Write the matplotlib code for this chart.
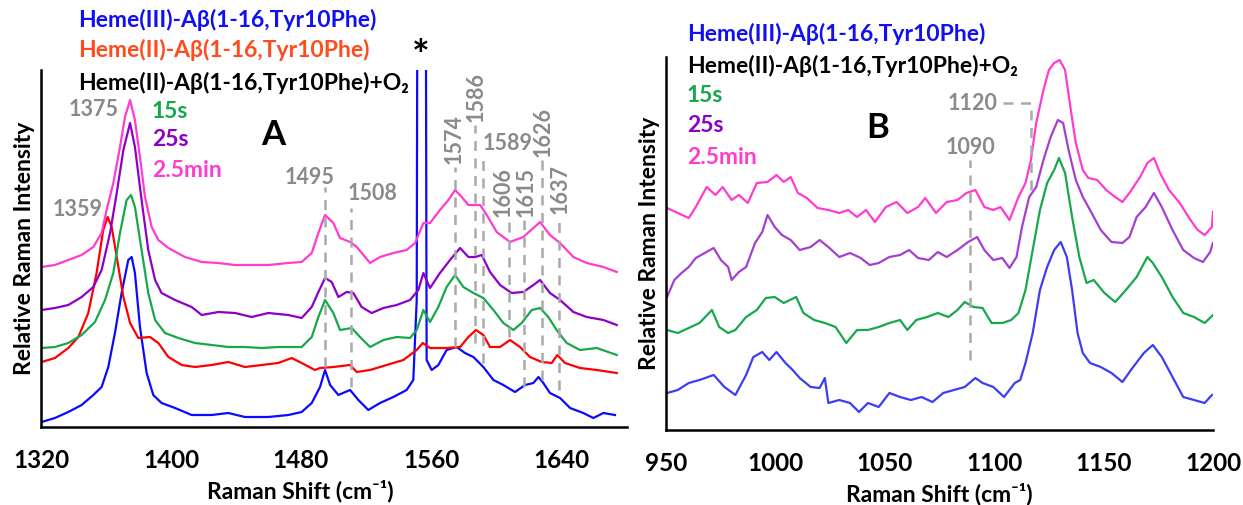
import matplotlib
matplotlib.use("Agg")
import matplotlib.pyplot as plt

plt.rcParams['font.family'] = ['Lato', 'DejaVu Sans']

# ---------------- panel A data (Raman shift cm-1, relative intensity) ----------------
a_pink_x = [1320.4, 1328.6, 1336.8, 1345.0, 1352.2, 1357.3, 1360.4, 1364.5, 1368.6, 1371.7, 1374.8, 1377.8,
            1380.9, 1384.0, 1388.1, 1392.2, 1398.4, 1408.6, 1418.9, 1429.1, 1439.4, 1449.6, 1459.9, 1472.2,
            1480.4, 1486.6, 1490.7, 1494.8, 1499.9, 1504.0, 1510.2, 1514.3, 1518.4, 1522.5, 1528.6, 1536.8,
            1545.0, 1550.2, 1555.3, 1559.4, 1565.5, 1570.7, 1574.8, 1578.9, 1583.0, 1590.2, 1594.3, 1600.4,
            1608.6, 1616.8, 1623.0, 1627.1, 1633.2, 1639.4, 1647.6, 1655.8, 1666.1, 1674.3]
a_pink_y = [16.0, 16.2, 16.7, 17.2, 18.0, 19.4, 21.7, 24.4, 28.0, 31.0, 32.7, 30.7,
            27.0, 23.0, 20.0, 18.7, 17.9, 17.0, 16.5, 16.4, 16.2, 16.2, 16.2, 16.4,
            16.5, 17.4, 19.4, 21.2, 20.4, 18.9, 18.5, 18.0, 17.2, 16.4, 17.0, 17.4,
            17.7, 18.4, 20.4, 20.4, 21.7, 22.7, 23.7, 23.0, 22.2, 22.2, 21.2, 19.5,
            18.5, 19.0, 19.9, 20.5, 19.2, 18.4, 17.0, 16.4, 16.0, 15.5]

a_purple_x = [1320.4, 1328.6, 1336.8, 1345.0, 1352.2, 1357.3, 1362.5, 1366.6, 1370.7, 1374.8, 1377.8, 1381.9,
              1386.0, 1390.2, 1394.2, 1402.5, 1412.7, 1418.9, 1429.1, 1439.4, 1449.6, 1459.9, 1472.2, 1480.4,
              1486.6, 1490.7, 1494.8, 1498.9, 1503.0, 1508.1, 1512.2, 1517.3, 1523.5, 1530.7, 1538.9, 1547.1,
              1552.2, 1555.3, 1559.4, 1565.5, 1571.7, 1577.9, 1583.0, 1587.1, 1591.2, 1596.3, 1602.5, 1609.6,
              1616.8, 1623.0, 1627.1, 1633.2, 1639.4, 1647.6, 1655.8, 1666.1, 1674.3]
a_purple_y = [11.7, 11.9, 12.2, 13.0, 14.0, 15.7, 19.4, 23.4, 27.7, 30.4, 28.0, 22.7,
              17.7, 14.7, 13.4, 12.7, 12.0, 11.2, 11.5, 11.4, 11.0, 11.4, 11.2, 10.9,
              12.0, 13.5, 14.9, 14.5, 13.0, 13.5, 13.4, 12.0, 11.4, 11.9, 12.2, 12.7,
              13.7, 15.4, 13.9, 15.4, 16.7, 17.9, 17.0, 17.0, 17.2, 15.5, 14.2, 13.4,
              13.5, 14.2, 14.7, 13.4, 12.7, 11.5, 11.0, 10.7, 10.2]

a_green_x = [1320.4, 1328.6, 1336.8, 1345.0, 1353.2, 1359.4, 1364.5, 1368.6, 1372.7, 1375.4, 1377.8, 1381.9,
             1386.0, 1390.2, 1396.3, 1404.5, 1414.8, 1425.0, 1435.3, 1445.5, 1455.8, 1466.0, 1480.4, 1486.6,
             1490.7, 1494.8, 1499.9, 1504.0, 1511.2, 1516.3, 1522.5, 1530.7, 1538.9, 1547.1, 1551.2, 1555.3,
             1559.4, 1564.5, 1569.6, 1574.8, 1579.9, 1586.1, 1592.2, 1598.4, 1604.5, 1610.7, 1615.8, 1622.0,
             1627.1, 1632.2, 1637.3, 1643.5, 1651.7, 1662.0, 1674.3]
a_green_y = [7.9, 8.0, 8.4, 9.2, 10.5, 12.7, 15.4, 19.4, 22.7, 23.2, 22.0, 17.7,
             13.4, 10.7, 9.4, 8.9, 8.4, 8.2, 8.0, 8.0, 7.9, 8.0, 8.0, 9.0,
             11.0, 12.7, 11.4, 9.7, 9.9, 9.0, 8.0, 8.7, 9.0, 8.9, 9.7, 11.7,
             10.5, 12.0, 14.0, 15.2, 14.0, 13.4, 12.9, 11.7, 10.4, 9.7, 10.4, 11.7,
             11.9, 11.0, 9.7, 8.4, 7.7, 7.9, 7.2]

a_red_x = [1320.4, 1328.6, 1336.8, 1343.0, 1349.1, 1354.2, 1358.3, 1361.0, 1363.5, 1366.6, 1370.7, 1374.8,
           1379.9, 1387.1, 1392.2, 1398.4, 1406.6, 1414.8, 1425.0, 1435.3, 1445.5, 1455.8, 1466.0, 1474.3,
           1480.4, 1488.6, 1491.7, 1499.9, 1510.2, 1514.3, 1522.5, 1532.7, 1543.0, 1551.2, 1554.9, 1559.4,
           1569.6, 1577.9, 1583.0, 1587.7, 1592.2, 1596.3, 1602.5, 1608.6, 1614.8, 1620.9, 1628.1, 1634.3,
           1637.7, 1642.5, 1651.7, 1662.0, 1674.3]
a_red_y = [6.5, 6.9, 7.9, 9.0, 11.4, 15.4, 19.7, 21.0, 20.0, 17.0, 13.0, 10.4,
           8.9, 9.0, 8.4, 7.0, 6.2, 6.0, 6.2, 6.5, 6.0, 6.2, 6.4, 6.9,
           6.4, 5.7, 5.9, 6.0, 6.2, 5.5, 5.7, 6.2, 6.7, 7.7, 8.4, 7.9,
           7.9, 8.0, 9.0, 9.7, 9.2, 8.0, 8.0, 8.7, 8.0, 7.0, 6.5, 6.4,
           7.2, 6.4, 5.9, 5.7, 5.4]

a_blue_x = [1320.4, 1328.6, 1336.8, 1345.0, 1352.2, 1357.3, 1361.4, 1365.5, 1369.6, 1373.7, 1375.8, 1377.8,
            1380.9, 1385.0, 1389.1, 1394.2, 1402.5, 1412.7, 1425.0, 1435.3, 1445.5, 1459.9, 1472.2, 1480.4,
            1486.6, 1491.7, 1494.8, 1497.9, 1503.0, 1510.2, 1515.3, 1521.4, 1528.6, 1536.8, 1545.0, 1549.1,
            1551.2, 1551.8, 1556.6, 1557.3, 1560.4, 1564.5, 1569.6, 1575.8, 1580.9, 1586.1, 1592.2, 1598.4,
            1604.5, 1611.7, 1617.9, 1623.0, 1626.1, 1629.1, 1633.2, 1639.4, 1645.6, 1653.7, 1659.9, 1666.1,
            1673.2]
a_blue_y = [0.5, 0.9, 1.5, 2.2, 3.2, 4.0, 6.0, 9.4, 13.4, 16.7, 17.0, 15.4,
            10.0, 5.4, 3.2, 2.4, 1.9, 1.2, 1.2, 1.4, 1.0, 1.0, 1.2, 1.5,
            2.4, 4.0, 5.7, 4.2, 3.2, 3.7, 2.7, 1.7, 2.4, 3.0, 3.7, 4.7,
            12.7, 60.0, 60.0, 6.7, 5.7, 6.2, 7.7, 8.0, 7.4, 7.0, 6.0, 4.7,
            4.2, 3.5, 4.2, 4.4, 5.0, 4.4, 3.4, 2.9, 1.9, 1.4, 0.9, 1.4,
            1.2]

# peak markers in panel A: label, line x, label x, line bottom, line top
a_peak_labels = ['1495', '1508', '1574', '1586', '1589', '1606', '1615', '1626', '1637']
a_peak_x = [1495, 1511, 1575, 1587, 1592, 1608, 1617, 1628, 1639]
a_label_x = [1485, 1524.3, 1574.2, 1587.7, 1591.5, 1604.3, 1618.5, 1628.9, 1639.4]
a_peak_lo = [6.0, 4.0, 8.0, 8.4, 6.4, 9.0, 4.0, 4.7, 3.7]
a_peak_hi = [24.0, 21.9, 26.0, 30.2, 27.0, 20.7, 20.7, 26.7, 21.0]

# ---------------- panel B data ----------------
b_pink_x = [950.5, 955.4, 960.4, 963.6, 968.6, 972.6, 975.9, 980.0, 983.3, 987.4, 991.5, 996.4, 1000.5,
            1003.8, 1007.0, 1010.3, 1014.4, 1019.3, 1024.2, 1029.2, 1033.3, 1037.3, 1041.4, 1045.5, 1050.5,
            1055.4, 1060.3, 1065.2, 1068.5, 1073.4, 1078.3, 1083.2, 1087.3, 1091.4, 1095.5, 1099.6, 1102.9,
            1107.0, 1111.1, 1114.3, 1116.8, 1119.2, 1122.5, 1125.0, 1127.4, 1129.9, 1132.4, 1134.8, 1137.3,
            1140.5, 1143.0, 1147.1, 1151.2, 1155.3, 1158.6, 1161.8, 1166.7, 1170.0, 1173.0, 1175.8, 1179.9,
            1184.8, 1189.7, 1193.0, 1196.2, 1199.5, 1200.0]
b_pink_y = [22.2, 21.7, 21.2, 22.3, 24.3, 23.5, 24.3, 23.0, 23.5, 22.7, 24.7, 24.8, 25.5,
            24.8, 25.3, 23.7, 23.2, 22.2, 22.0, 21.7, 22.0, 21.3, 22.0, 20.8, 22.3,
            22.8, 21.7, 22.3, 23.2, 21.7, 22.8, 23.0, 23.7, 24.0, 22.3, 22.0, 22.3,
            21.0, 23.3, 24.7, 27.0, 30.7, 34.0, 36.0, 36.7, 37.0, 36.0, 32.3, 28.7,
            26.0, 25.2, 25.0, 24.0, 23.3, 22.8, 23.7, 25.3, 26.7, 27.2, 25.7, 24.0,
            22.7, 21.0, 20.0, 19.5, 20.3, 21.8]

b_purple_x = [950.5, 953.8, 957.1, 960.4, 963.6, 967.7, 971.8, 975.1, 978.4, 980.0, 983.3, 986.6, 990.7,
              994.0, 996.4, 999.7, 1003.0, 1007.0, 1011.1, 1016.1, 1020.2, 1024.2, 1029.2, 1034.1, 1039.0,
              1043.1, 1047.2, 1052.1, 1057.0, 1061.1, 1065.2, 1070.1, 1074.2, 1078.3, 1083.2, 1088.1, 1092.2,
              1095.5, 1099.6, 1103.7, 1107.0, 1110.2, 1112.7, 1116.0, 1119.2, 1122.5, 1125.8, 1129.1, 1131.5,
              1134.0, 1137.3, 1140.5, 1143.8, 1148.7, 1153.6, 1158.6, 1161.8, 1165.1, 1169.2, 1173.0, 1176.6,
              1181.5, 1186.4, 1191.3, 1195.4, 1198.7, 1200.0]
b_purple_y = [13.3, 15.0, 15.7, 16.3, 17.2, 17.7, 18.2, 17.0, 16.3, 15.0, 15.8, 16.3, 18.7,
              19.8, 21.5, 20.3, 19.5, 19.0, 18.0, 18.3, 19.0, 18.3, 17.3, 17.7, 17.2,
              16.5, 16.7, 17.3, 17.5, 18.0, 17.2, 17.0, 17.8, 17.3, 18.0, 18.8, 19.3,
              18.0, 17.0, 17.2, 16.2, 17.3, 20.3, 23.3, 24.3, 27.0, 29.3, 31.0, 30.7,
              28.0, 25.0, 23.3, 22.0, 20.0, 18.8, 18.7, 19.3, 21.3, 22.3, 23.7, 22.3,
              20.0, 18.0, 17.2, 16.8, 17.8, 18.7]

b_green_x = [950.5, 955.4, 960.4, 965.3, 971.0, 974.3, 978.4, 981.7, 986.6, 991.5, 995.6, 999.7, 1003.8,
             1009.5, 1012.8, 1017.7, 1022.6, 1027.5, 1032.4, 1037.3, 1042.3, 1047.2, 1052.1, 1057.0, 1060.3,
             1064.4, 1069.3, 1074.2, 1079.1, 1083.2, 1086.5, 1090.6, 1094.7, 1098.8, 1103.7, 1107.8, 1111.1,
             1114.3, 1117.6, 1120.9, 1124.2, 1127.4, 1129.6, 1132.4, 1135.6, 1138.9, 1142.2, 1145.5, 1150.4,
             1155.3, 1160.2, 1165.1, 1170.0, 1172.5, 1176.6, 1181.5, 1186.4, 1191.3, 1196.2, 1200.0]
b_green_y = [10.0, 9.7, 10.2, 10.7, 12.0, 10.3, 9.7, 10.0, 11.3, 12.0, 13.2, 13.3, 12.7,
             13.3, 11.7, 11.0, 10.7, 10.3, 8.7, 10.0, 10.0, 10.3, 10.7, 11.0, 10.0,
             11.0, 11.3, 11.7, 11.3, 12.0, 12.8, 12.3, 12.2, 10.7, 10.7, 11.0, 11.7,
             14.0, 18.0, 22.0, 24.7, 26.0, 27.2, 25.7, 21.3, 17.3, 14.7, 15.0, 13.7,
             12.8, 14.0, 15.3, 17.3, 16.7, 15.3, 13.3, 11.7, 11.3, 10.7, 11.5]

b_blue_x = [950.5, 955.4, 960.4, 965.3, 971.8, 976.7, 981.7, 986.6, 989.9, 994.0, 997.2, 1000.5, 1004.6,
            1007.9, 1011.1, 1016.1, 1020.2, 1022.6, 1024.2, 1029.2, 1034.1, 1038.2, 1042.3, 1047.2, 1052.1,
            1057.0, 1061.9, 1066.8, 1071.8, 1076.7, 1081.6, 1086.5, 1091.4, 1094.7, 1099.6, 1104.5, 1109.4,
            1111.9, 1114.3, 1117.6, 1120.9, 1124.2, 1127.4, 1130.4, 1133.2, 1135.6, 1138.1, 1140.5, 1143.8,
            1148.7, 1153.6, 1158.6, 1163.5, 1168.4, 1172.5, 1176.6, 1181.5, 1186.4, 1191.3, 1196.2, 1199.5]
b_blue_y = [3.7, 4.0, 4.7, 5.0, 5.5, 4.3, 3.5, 5.5, 7.3, 7.8, 7.0, 7.8, 6.7,
            6.0, 5.2, 4.3, 4.2, 5.2, 2.7, 3.0, 2.7, 1.8, 2.7, 2.3, 3.7,
            3.3, 3.0, 3.3, 2.8, 3.7, 4.0, 4.3, 5.2, 4.7, 4.3, 3.3, 4.7,
            5.0, 6.7, 9.7, 14.0, 16.3, 18.0, 18.8, 17.3, 14.0, 9.7, 7.7, 6.7,
            6.3, 5.7, 4.8, 6.3, 7.7, 8.5, 7.3, 5.3, 3.3, 3.0, 2.7, 3.5]

a_ticks = [1320, 1400, 1480, 1560, 1640]
b_ticks = [950, 1000, 1050, 1100, 1150, 1200]

GRAY_TXT = '#8a8a8a'
GRAY_LN = '#a9a9a9'

fig = plt.figure(figsize=(12.43, 5.05), dpi=100)
axA = fig.add_axes([41 / 1243, 78 / 505, 586 / 1243, 357 / 505])
axB = fig.add_axes([666 / 1243, 75 / 505, 547 / 1243, 373 / 505])

lw = 1.6
axA.plot(a_blue_x, a_blue_y, color='#0a0aff', lw=lw)
axA.plot(a_red_x, a_red_y, color='#ff0000', lw=lw)
axA.plot(a_green_x, a_green_y, color='#17a84b', lw=lw)
axA.plot(a_purple_x, a_purple_y, color='#8e00c8', lw=lw)
axA.plot(a_pink_x, a_pink_y, color='#ff3ccf', lw=lw)

axB.plot(b_blue_x, b_blue_y, color='#3d3df5', lw=lw)
axB.plot(b_green_x, b_green_y, color='#17a84b', lw=lw)
axB.plot(b_purple_x, b_purple_y, color='#a43fd2', lw=lw)
axB.plot(b_pink_x, b_pink_y, color='#ff3ccf', lw=lw)

# dashed peak markers, panel A
for xv, lo, hi in zip(a_peak_x, a_peak_lo, a_peak_hi):
    axA.plot([xv, xv], [lo, hi], color=GRAY_LN, lw=1.8, ls=(0, (4, 3)))

fs_pk = 15.5
axA.text(1352.6, 31.7, '1375', color=GRAY_TXT, fontsize=fs_pk, ha='center', va='center', fontweight='bold')
axA.text(1342.8, 21.7, '1359', color=GRAY_TXT, fontsize=fs_pk, ha='center', va='center', fontweight='bold')
for lab, lx, hi in zip(a_peak_labels, a_label_x, a_peak_hi):
    if lab == '1495':
        axA.text(lx, 25.0, lab, color=GRAY_TXT, fontsize=fs_pk, ha='center', va='center', fontweight='bold')
    elif lab == '1508':
        axA.text(lx, 23.4, lab, color=GRAY_TXT, fontsize=fs_pk, ha='center', va='center', fontweight='bold')
    elif lab == '1589':
        axA.text(lx, hi + 1.4, lab, color=GRAY_TXT, fontsize=fs_pk, ha='left', va='center', fontweight='bold')
    else:
        axA.text(lx, hi + 0.3, lab, color=GRAY_TXT, fontsize=fs_pk, ha='center', va='bottom',
                 rotation=90, fontweight='bold')

axA.text(1553.8, 36.9, '*', fontsize=30, fontweight='bold', ha='center', va='center', clip_on=False)
axA.text(1462.8, 29.2, 'A', fontsize=25, fontweight='bold', ha='center', va='center')

# panel B markers
axB.plot([1089, 1089], [7.0, 27.0], color=GRAY_LN, lw=1.8, ls=(0, (4, 3)))
axB.plot([1104, 1117, 1117], [32.7, 32.7, 23.5], color=GRAY_LN, lw=1.8, ls=(0, (4, 3)))
axB.text(1089.0, 28.3, '1090', color=GRAY_TXT, fontsize=fs_pk, ha='center', va='center', fontweight='bold')
axB.text(1090.3, 32.7, '1120', color=GRAY_TXT, fontsize=fs_pk, ha='center', va='center', fontweight='bold')
axB.text(1046.9, 30.2, 'B', fontsize=25, fontweight='bold', ha='center', va='center')

for ax, ticks, xl, yl, xlab_pos in [(axA, a_ticks, (1320, 1680.6), (0, 35.7), (0.442, -0.148)),
                                    (axB, b_ticks, (950, 1200), (0, 37.3), (0.5, -0.140))]:
    ax.set_xlim(*xl)
    ax.set_ylim(*yl)
    ax.set_xticks(ticks)
    ax.set_xticklabels([str(t) for t in ticks], fontsize=17.5, fontweight='bold')
    ax.set_yticks([])
    ax.tick_params(axis='x', length=0, pad=16)
    for s in ['top', 'right']:
        ax.spines[s].set_visible(False)
    for s in ['left', 'bottom']:
        ax.spines[s].set_linewidth(1.8)
    ax.set_xlabel('Raman Shift (cm⁻¹)', fontsize=16.5, fontweight='bold')
    ax.xaxis.set_label_coords(*xlab_pos)
    ax.set_ylabel('Relative Raman Intensity', fontsize=16.5, fontweight='bold', labelpad=4)

A_txt = [('Heme(III)-Aβ(1-16,Tyr10Phe)', '#1010f0', 78, 20),
         ('Heme(II)-Aβ(1-16,Tyr10Phe)', '#ff4c1c', 78, 50),
         ('Heme(II)-Aβ(1-16,Tyr10Phe)+O₂', 'black', 78, 83),
         ('15s', '#17a84b', 152, 111),
         ('25s', '#8e00c8', 152, 139),
         ('2.5min', '#ff3ccf', 152, 170)]
B_txt = [('Heme(III)-Aβ(1-16,Tyr10Phe)', '#1010f0', 687, 34),
         ('Heme(II)-Aβ(1-16,Tyr10Phe)+O₂', 'black', 687, 66),
         ('15s', '#17a84b', 687, 95),
         ('25s', '#8e00c8', 687, 126),
         ('2.5min', '#ff3ccf', 687, 157)]
for txt, col, px, py in A_txt + B_txt:
    fig.text(px / 1243, 1 - py / 505, txt, color=col, fontsize=16.5, fontweight='bold', ha='left', va='center')

fig.savefig('out.png', dpi=100)
